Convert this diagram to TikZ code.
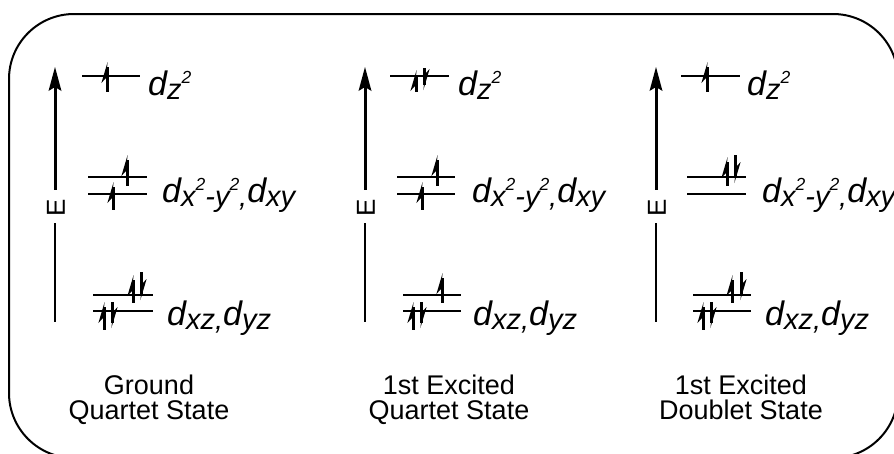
\documentclass[tikz,border=0pt]{standalone}
\usepackage{fontspec}
\setmainfont{Liberation Sans}
\newcommand\dD{{\fontsize{34}{34}\selectfont\itshape d}}
\newcommand\dS[1]{\raisebox{-4pt}{\fontsize{29}{29}\selectfont\itshape #1}}
\newcommand\dP[1]{\raisebox{12pt}{\fontsize{17.5}{17.5}\selectfont\itshape #1}}
\newcommand\eU[3]{\fill (#1+0.6,#2) -- ++(-6.2,21) -- ++(4.6,-5) -- cycle; \draw[eshaft] (#1,#2+5) -- (#1,#3);}
\newcommand\eD[3]{\fill (#1-0.6,#3) -- ++(6.2,-21) -- ++(-4.6,5) -- cycle; \draw[eshaft] (#1,#2) -- (#1,#3-5);}
\newcommand\Eaxis[2]{%
  \fill (#1,67) -- (#1-6.5,91) -- (#1,87) -- (#1+6.5,91) -- cycle;
  \draw[line width=3pt] (#1,85) -- (#1,190);
  \draw[line width=2pt] (#1,223) -- (#1,322);
  \node[elab] (#2) at (#1+1,208) {E};}
\begin{document}
\begin{tikzpicture}[x=1pt,y=-1pt,
  lvl/.style={line width=2pt},
  eshaft/.style={line width=3pt},
  elab/.style={rotate=90,inner sep=0,font=\fontsize{26}{26}\selectfont},
  orb/.style={anchor=base west,inner sep=0},
  captext/.style={anchor=base,inner sep=0,font=\fontsize{27}{27}\selectfont}]
\useasboundingbox (0,0) rectangle (894,453);
\clip (0,0) rectangle (894,453);
\draw[line width=2pt, rounded corners=65pt] (9,14) rectangle (898,458);

% ---------- panel 1
\Eaxis{55}{E1}
\draw[lvl] (82,76) -- (140,76);
\draw[lvl] (88,177) -- (147,177); \draw[lvl] (88,194) -- (147,194);
\draw[lvl] (93,295) -- (153,295); \draw[lvl] (93,311) -- (153,311);
\eU{107}{62}{92}
\eU{127}{155}{186}
\eU{113}{182}{210}
\eU{133}{275}{303} \eD{141}{272}{300}
\eU{104}{302}{330} \eD{112}{302}{328}
\node[orb] (z1) at (148,95) {\dD\dS{z}\dP{2}};
\node[orb] (xy1) at (162,202) {\dD\dS{x}\dP{2}\dS{-y}\dP{2}\dS{,}\dD\dS{xy}};
\node[orb] (xz1) at (167,325) {\dD\dS{xz,}\dD\dS{yz}};
\node[captext] (c1a) at (149,394) {Ground};
\node[captext] (c1b) at (149,419) {Quartet State};

% ---------- panel 2
\Eaxis{365}{E2}
\draw[lvl] (390,76) -- (449,76);
\draw[lvl] (397,177) -- (455,177); \draw[lvl] (397,194) -- (455,194);
\draw[lvl] (403,295) -- (461,295); \draw[lvl] (403,311) -- (461,311);
\eU{416}{70}{92} \eD{424}{68}{90}
\eU{437}{155}{186}
\eU{422}{182}{210}
\eU{442}{273}{303}
\eU{413}{302}{330} \eD{421}{302}{328}
\node[orb] (z2) at (458,95) {\dD\dS{z}\dP{2}};
\node[orb] (xy2) at (472,202) {\dD\dS{x}\dP{2}\dS{-y}\dP{2}\dS{,}\dD\dS{xy}};
\node[orb] (xz2) at (473,325) {\dD\dS{xz,}\dD\dS{yz}};
\node[captext] (c2a) at (449,394) {1st Excited};
\node[captext] (c2b) at (449,419) {Quartet State};

% ---------- panel 3
\Eaxis{656}{E3}
\draw[lvl] (681,76) -- (740,76);
\draw[lvl] (687,177) -- (746,177); \draw[lvl] (687,194) -- (746,194);
\draw[lvl] (693,295) -- (751,295); \draw[lvl] (693,311) -- (751,311);
\eU{707}{62}{92}
\eU{727}{157}{186} \eD{735}{155}{183}
\eU{732}{275}{303} \eD{741}{272}{300}
\eU{703}{302}{330} \eD{711}{302}{328}
\node[orb] (z3) at (747,95) {\dD\dS{z}\dP{2}};
\node[orb] (xy3) at (762,202) {\dD\dS{x}\dP{2}\dS{-y}\dP{2}\dS{,}\dD\dS{xy}};
\node[orb] (xz3) at (765,325) {\dD\dS{xz,}\dD\dS{yz}};
\node[captext] (c3a) at (741,394) {1st Excited};
\node[captext] (c3b) at (741,419) {Doublet State};
\end{tikzpicture}
\end{document}
